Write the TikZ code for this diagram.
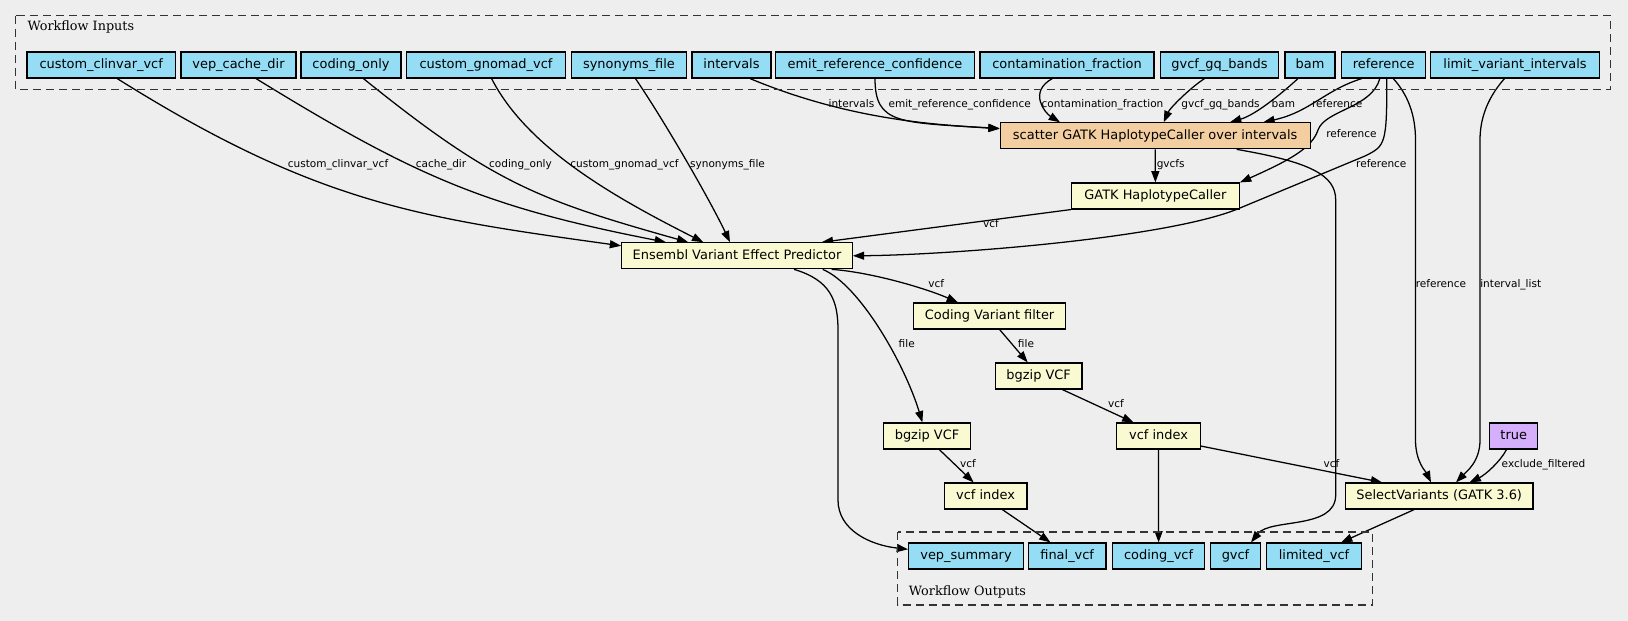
\documentclass[tikz,border=0pt]{standalone}
\usepackage{fontspec}
\setmainfont{DejaVu Sans}
\newfontfamily\serifT{DejaVu Serif}
\usetikzlibrary{arrows.meta,calc}
\definecolor{bgc}{HTML}{EEEEEE}
\definecolor{inpc}{HTML}{94DDF4}
\definecolor{stepc}{HTML}{FAFAD2}
\definecolor{scatc}{HTML}{F3CEA1}
\definecolor{defc}{HTML}{D5AEFC}
\newcommand{\myNodeFont}{\fontsize{9.7}{11}\selectfont}
\newcommand{\myLblFont}{\fontsize{7.9}{9}\selectfont}
\newcommand{\myTitleFont}{\serifT\fontsize{9.6}{11}\selectfont}
\pgfdeclarelayer{bglayer}
\pgfdeclarelayer{edgelayer}
\pgfsetlayers{bglayer,edgelayer,main}
\tikzset{
  box/.style={draw=black, line width=0.85pt, minimum height=19.5pt, inner xsep=1pt, inner ysep=0pt,
    font=\myNodeFont, text height=7.2pt, text depth=2pt},
  inp/.style={box, fill=inpc, minimum width=#1*0.75pt},
  stp/.style={box, fill=stepc, minimum width=#1*0.75pt},
  scat/.style={box, fill=scatc, minimum width=#1*0.75pt},
  dflt/.style={box, fill=defc, minimum width=#1*0.75pt},
  lbl/.style={font=\myLblFont, inner sep=0pt, text height=5.8pt, text depth=1.6pt},
  ttl/.style={font=\myTitleFont, inner sep=0pt, anchor=west},
  arr/.style={line width=0.95pt, -{Triangle[length=8.5pt,width=6pt]}},
  clus/.style={draw=black!80, line width=0.95pt, dash pattern=on 6pt off 3.75pt}
}
\begin{document}
\begin{tikzpicture}[x=0.75pt,y=-0.75pt]
\begin{pgfonlayer}{bglayer}
\fill[bgc] (0,0) rectangle (1628,621);
\end{pgfonlayer}
\useasboundingbox (0,0) rectangle (1628,621);
% clusters
\draw[clus] (15.7,15.7) rectangle (1610.5,89.3);
\draw[clus] (897.7,532) rectangle (1372.4,605);
\node[ttl] (tin) at (27.3,27.3) {Workflow Inputs};
\node[ttl] (tout) at (908.6,591.7) {Workflow Outputs};
% inputs
\node[inp=148.3] (cc) at (101.2,65) {custom\_clinvar\_vcf};
\node[inp=115] (vcd) at (238.5,65) {vep\_cache\_dir};
\node[inp=100] (co) at (351,65) {coding\_only};
\node[inp=159] (cg) at (486,65) {custom\_gnomad\_vcf};
\node[inp=115.5] (sf) at (629,65) {synonyms\_file};
\node[inp=79] (iv) at (731.5,65) {intervals};
\node[inp=199] (erc) at (875,65) {emit\_reference\_confidence};
\node[inp=174] (cf) at (1067,65) {contamination\_fraction};
\node[inp=118.5] (gq) at (1219.5,65) {gvcf\_gq\_bands};
\node[inp=50] (bam) at (1310,65) {bam};
\node[inp=84] (ref) at (1383.8,65) {reference};
\node[inp=169] (lvi) at (1515,65) {limit\_variant\_intervals};
% steps
\node[scat=310] (sc) at (1155.2,135.8) {scatter GATK HaplotypeCaller over intervals};
\node[stp=168] (hc) at (1155.4,196) {GATK HaplotypeCaller};
\node[stp=230.6] (evp) at (737,255.8) {Ensembl Variant Effect Predictor};
\node[stp=151.4] (cvf) at (989.6,316) {Coding Variant filter};
\node[stp=86.6] (bz1) at (1038.7,376) {bgzip VCF};
\node[stp=87] (bz2) at (927,436) {bgzip VCF};
\node[stp=83.3] (vi1) at (1158.5,436) {vcf index};
\node[stp=82.7] (vi2) at (985.6,496) {vcf index};
\node[stp=187.5] (sv) at (1439.2,496) {SelectVariants (GATK 3.6)};
\node[dflt=48] (tr) at (1513.7,436) {true};
% outputs
\node[inp=114.7] (vs) at (966,556) {vep\_summary};
\node[inp=77.7] (fv) at (1067.2,556) {final\_vcf};
\node[inp=91.7] (cv) at (1158.6,556) {coding\_vcf};
\node[inp=50.7] (gv) at (1235.5,556) {gvcf};
\node[inp=94.7] (lv) at (1314,556) {limited\_vcf};
\begin{pgfonlayer}{edgelayer}
% edges to EVP
\draw[arr] ($(cc.south)+(16,0)$) .. controls (317,204) and (421,218) .. ($(evp.west)+(0,-10)$);
\draw[arr] ($(vcd.south)+(17.5,0)$) .. controls (416,177) and (486,207) .. ($(evp.north)+(-71,0)$);
\draw[arr] ($(co.south)+(12.4,0)$) .. controls (493,183) and (538,200) .. ($(evp.north)+(-48.7,0)$);
\draw[arr] ($(cg.south)+(5.6,0)$) .. controls (528,150) and (620,200) .. ($(evp.north)+(-33.7,0)$);
\draw[arr] ($(sf.south)+(6.5,0)$) .. controls (665,122) and (710,200) .. ($(evp.north)+(-7,0)$);
% edges to scatter
\draw[arr] ($(iv.south)+(18.5,0)$) .. controls (840,116) and (920,124.5) .. ($(sc.west)+(0,-7.5)$);
\draw[arr] (erc.south) .. controls (875,125) and (900,122) .. ($(sc.west)+(0,-7)$);
\draw[arr] ($(cf.south)+(-14.7,0)$) .. controls (1028,92) and (1045,113) .. ($(sc.north)+(-95.2,0)$);
\draw[arr] ($(gq.south)+(-15,0)$) .. controls (1190,88) and (1170,108) .. ($(sc.north)+(8.5,0)$);
\draw[arr] ($(bam.south)+(-12,0)$) .. controls (1280,95) and (1255,115) .. ($(sc.north)+(74.8,0)$);
\draw[arr] ($(ref.south)+(-22,0)$) .. controls (1325,90) and (1310,112) .. ($(sc.north)+(108.1,0)$);
% reference to others
\draw[arr] ($(ref.south)+(-4,0)$) .. controls (1372,108) and (1325,110) .. (1318,130) .. controls (1312,148) and (1290,160) .. (hc.north east);
\draw[arr] ($(ref.south)+(3,0)$) .. controls (1387,145) and (1385,146) .. (1365,156) -- (1240,208) .. controls (1170,238) and (950,255) .. (evp.east);
\draw[arr] ($(ref.south)+(9.5,0)$) .. controls (1408,95) and (1415.5,115) .. (1415.5,140) -- (1415.5,440) .. controls (1415.5,462) and (1426,472) .. ($(sv.north)+(-8.2,0)$);
\draw[arr] ($(lvi.south)+(-10.5,0)$) .. controls (1490,95) and (1480,115) .. (1480,140) -- (1480,440) .. controls (1480,462) and (1466,472) .. ($(sv.north)+(16.8,0)$);
\draw[arr] ($(tr.south)+(-7.2,0)$) .. controls (1500,462) and (1485,475) .. ($(sv.north)+(30.3,0)$);
\draw[arr] ($(vi1.east)+(0,10)$) -- ($(sv.north)+(-57,0)$);
\draw[arr] (vi1.south) -- (cv.north);
% scatter outputs
\draw[arr] ($(sc.south)+(81.5,0)$) .. controls (1310,162) and (1335.7,175) .. (1335.7,200) -- (1335.7,495) .. controls (1335.7,530) and (1270,518) .. ($(gv.north)+(15.5,0)$);
\draw[arr] (sc.south) -- (hc.north);
\draw[arr] (hc.south west) -- ($(evp.north)+(84.7,0)$);
% evp outputs
\draw[arr] ($(evp.south)+(94.6,0)$) .. controls (870,272) and (925,288) .. ($(cvf.north)+(-31.6,0)$);
\draw[arr] ($(evp.south)+(85.7,0)$) .. controls (860,285) and (905,365) .. ($(bz2.north)+(-4.6,0)$);
\draw[arr] ($(evp.south)+(57,0)$) .. controls (830,280) and (838,300) .. (838,330) -- (838,500) .. controls (838,530) and (870,545) .. ($(vs.west)+(0,-6.7)$);
\draw[arr] ($(cvf.south)+(10,0)$) -- ($(bz1.north)+(-11,0)$);
\draw[arr] ($(bz1.south)+(23.7,0)$) -- ($(vi1.north)+(-25,0)$);
\draw[arr] ($(bz2.south)+(12.3,0)$) -- ($(vi2.north)+(-12,0)$);
\draw[arr] ($(vi2.south)+(16.7,0)$) -- ($(fv.north)+(-16.7,0)$);
\draw[arr] ($(sv.south)+(-25,0)$) -- ($(lv.north)+(27,0)$);
\end{pgfonlayer}
% labels
\node[lbl] (l1) at (338,165) {custom\_clinvar\_vcf};
\node[lbl] (l2) at (441,165) {cache\_dir};
\node[lbl] (l3) at (520.5,165) {coding\_only};
\node[lbl] (l4) at (624.5,165) {custom\_gnomad\_vcf};
\node[lbl] (l5) at (727.5,165) {synonyms\_file};
\node[lbl] (l6) at (851.4,105) {intervals};
\node[lbl] (l7) at (959.7,105) {emit\_reference\_confidence};
\node[lbl] (l8) at (1102.5,105) {contamination\_fraction};
\node[lbl] (l9) at (1220.5,104.5) {gvcf\_gq\_bands};
\node[lbl] (l10) at (1283.3,104.5) {bam};
\node[lbl] (l11) at (1337.2,104.5) {reference};
\node[lbl] (l12) at (1351.5,134.3) {reference};
\node[lbl] (l13) at (1381.3,164.3) {reference};
\node[lbl] (l14) at (1441,285) {reference};
\node[lbl] (l15) at (1510.7,285) {interval\_list};
\node[lbl] (l16) at (1170.7,165) {gvcfs};
\node[lbl] (l17) at (991,225) {vcf};
\node[lbl] (l18) at (936.3,284.3) {vcf};
\node[lbl] (l19) at (906.7,344.3) {file};
\node[lbl] (l20) at (1026,344.3) {file};
\node[lbl] (l21) at (1116,405) {vcf};
\node[lbl] (l22) at (1331.5,464.3) {vcf};
\node[lbl] (l23) at (1543.5,464.3) {exclude\_filtered};
\node[lbl] (l24) at (968,464.3) {vcf};
\end{tikzpicture}
\end{document}
